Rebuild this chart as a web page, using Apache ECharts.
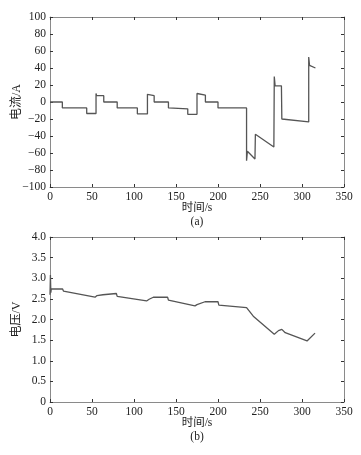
<!DOCTYPE html>
<html><head><meta charset="utf-8">
<script src="https://cdn.jsdelivr.net/npm/echarts@6/dist/echarts.min.js"></script>
<style>html,body{margin:0;padding:0;background:#fff}#c{width:361px;height:455px}</style>
</head><body><div id="c"></div>
<script>
// Current (a)
const currentTime = [0,14.7,14.7,43.7,43.7,54.8,54.8,55.5,64,64,80,80,104,104,116,116,117,124,124,141,141,164,164,175,175,176,185,185,200,200,234,234,235,244,244.5,266.5,267,268,275.5,276,308,308,309,316];
const currentValues = [0,0,-7,-7,-13.5,-13.5,10,7.5,7.5,0,0,-7,-7,-14,-14,9,7.5,7.5,0,0,-7,-8,-14.5,-14.5,10,8,8,0,0,-7,-7,-69,-58,-67,-38,-53,30,19,19,-20,-23.5,53,43,40];
// Voltage (b)
const voltageTime = [0,0.5,1,1.5,2,15,16,53.6,55,56,63,64,79,80,115,118,123,140,141,172.6,175,184.5,200,201,234,235,242,267,272,276,280,306,315.5];
const voltageValues = [2.6,3.08,2.65,2.74,2.74,2.74,2.69,2.54,2.55,2.58,2.6,2.63,2.63,2.56,2.45,2.49,2.54,2.54,2.47,2.33,2.36,2.43,2.43,2.35,2.29,2.29,2.08,1.64,1.73,1.76,1.68,1.48,1.67];
const xTicks = [0,50,100,150,200,250,300,350];

const chart = echarts.init(document.getElementById('c'));
const FONT = '"Liberation Serif","Times New Roman","Noto Sans CJK SC",serif';
const axisCol = '#8a8a8a';
const lab = {color:'#222', fontFamily:FONT, fontSize:11.5};
function xa(grid, pos, show){
  return {type:'value', gridIndex:grid, position:pos, min:0, max:350, interval:50,
    axisLine:{show:true, onZero:false, lineStyle:{color:axisCol, width:1}},
    axisTick:{show:true, inside:true, length:3, lineStyle:{color:'#333'}},
    axisLabel:Object.assign({show:show, margin:4}, lab),
    splitLine:{show:false},
    name: show ? '时间/s' : '', nameLocation:'middle', nameGap:15, nameMoveOverlap:false,
    nameTextStyle:{color:'#222', fontFamily:FONT, fontSize:11.5}};
}
function ya(grid, pos, show, min, max, iv, name, fmt){
  return {type:'value', gridIndex:grid, position:pos, min:min, max:max, interval:iv,
    axisLine:{show:true, onZero:false, lineStyle:{color:axisCol, width:1}},
    axisTick:{show:true, inside:true, length:3, lineStyle:{color:'#333'}},
    axisLabel:Object.assign({show:show, margin:4, formatter:fmt}, lab),
    splitLine:{show:false},
    name: show ? name : '', nameLocation:'middle', nameGap:27, nameRotate:90, nameMoveOverlap:false,
    nameTextStyle:{color:'#222', fontFamily:FONT, fontSize:12}};
}
const fmtA = v => String(v).replace('-', '\u2212');
const fmtV = v => v === 0 ? '0' : v.toFixed(1);
chart.setOption({
  animation:false,
  grid:[{left:50, top:17, width:294, height:170, containLabel:false, outerBoundsMode:'none'},
        {left:50, top:237, width:294, height:165, containLabel:false, outerBoundsMode:'none'}],
  xAxis:[xa(0,'bottom',true), xa(0,'top',false), xa(1,'bottom',true), xa(1,'top',false)],
  yAxis:[ya(0,'left',true,-100,100,20,'电流/A',fmtA), ya(0,'right',false,-100,100,20,'',fmtA),
         ya(1,'left',true,0,4,0.5,'电压/V',fmtV), ya(1,'right',false,0,4,0.5,'',fmtV)],
  series:[
    {type:'line', xAxisIndex:0, yAxisIndex:0, symbol:'none', lineStyle:{color:'#555', width:1.3},
     data: currentTime.map((t,i)=>[t,currentValues[i]])},
    {type:'line', xAxisIndex:2, yAxisIndex:2, symbol:'none', lineStyle:{color:'#555', width:1.3},
     data: voltageTime.map((t,i)=>[t,voltageValues[i]])}
  ],
  graphic:[
    {type:'text', x:197, y:222, style:{text:'(a)', fill:'#222', font:'11.5px '+FONT, textAlign:'center', textVerticalAlign:'middle'}},
    {type:'text', x:197, y:437, style:{text:'(b)', fill:'#222', font:'11.5px '+FONT, textAlign:'center', textVerticalAlign:'middle'}}
  ]
});
</script></body></html>
